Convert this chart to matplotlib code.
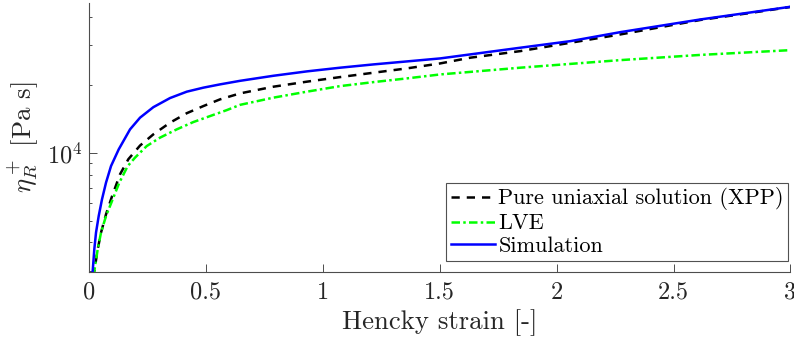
import matplotlib
matplotlib.use("Agg")
import matplotlib.pyplot as plt
from matplotlib.ticker import LogLocator, NullFormatter, FixedLocator

plt.rcParams['font.family'] = 'serif'
plt.rcParams['font.serif'] = ['cmr10']
plt.rcParams['mathtext.fontset'] = 'cm'
plt.rcParams['axes.formatter.use_mathtext'] = True

# Hencky strain and transient extensional viscosity for each curve
strain_sim = [0.0, 0.0158, 0.0227, 0.0300, 0.0415, 0.0556, 0.0728, 0.0942, 0.1271, 0.1755,
              0.2183, 0.2752, 0.3466, 0.4181, 0.4892, 0.5606, 0.6462, 0.7887, 0.9317, 1.0742,
              1.2167, 1.3596, 1.5021, 1.8445, 2.0585, 2.2725, 2.6148, 2.8288, 3.0]
eta_sim = [2400, 2993, 3734, 4426, 5242, 6215, 7368, 8724, 10342, 12679,
           14287, 15900, 17450, 18620, 19400, 20060, 20800, 21900, 22900, 23780,
           24590, 25350, 26140, 29150, 31170, 34170, 38890, 41770, 44260]

strain_xpp = [0.0, 0.0227, 0.0372, 0.0514, 0.0728, 0.0984, 0.1327, 0.1682, 0.2183, 0.2752,
              0.3466, 0.4181, 0.4892, 0.5606, 0.6462, 0.7887, 0.9317, 1.0742, 1.2167, 1.3596,
              1.5021, 1.6305, 1.8445, 2.2725, 2.6148, 2.8288, 3.0]
eta_xpp = [2400, 2993, 3734, 4426, 5333, 6405, 8017, 9350, 10750, 12050,
           13574, 14950, 16080, 17220, 18300, 19590, 20620, 21610, 22590, 23610,
           24840, 26330, 28160, 33380, 38690, 41560, 44170]

strain_lve = [0.0, 0.0227, 0.0372, 0.0514, 0.0728, 0.1014, 0.1297, 0.1656, 0.1969, 0.2469,
              0.3038, 0.3753, 0.4463, 0.5178, 0.5893, 0.6462, 0.7887, 0.9317, 1.0742, 1.2167,
              1.3596, 1.5021, 1.8445, 2.2725, 2.6148, 3.0]
eta_lve = [2400, 2993, 3734, 4426, 5242, 6215, 7368, 8724, 9504, 10695,
           11652, 12679, 13660, 14520, 15430, 16280, 17520, 18620, 19710, 20530,
           21320, 22200, 23780, 25690, 27090, 28440]

xticks = [0, 0.5, 1, 1.5, 2, 2.5, 3]
xtick_labels = ['0', '0.5', '1', '1.5', '2', '2.5', '3']

fig = plt.figure(figsize=(7.94, 3.48), dpi=100)
ax = fig.add_axes([0.1121, 0.2193, 0.8834, 0.7721])

ax.plot(strain_xpp, eta_xpp, color='black', linestyle=(0, (3.3, 2.8)), linewidth=1.8,
        label='Pure uniaxial solution (XPP)')
ax.plot(strain_lve, eta_lve, color='#00ff00', linestyle=(0, (3.4, 1.3, 1, 1.3)), linewidth=1.8,
        label='LVE')
ax.plot(strain_sim, eta_sim, color='#0000ff', linewidth=1.8, label='Simulation')

ax.set_yscale('log')
ax.set_xlim(0, 3)
ax.set_ylim(2970, 46000)
ax.yaxis.set_major_locator(LogLocator(base=10))
ax.yaxis.set_minor_locator(LogLocator(base=10, subs=range(2, 10)))
ax.yaxis.set_minor_formatter(NullFormatter())
ax.xaxis.set_major_locator(FixedLocator(xticks))
ax.set_xticklabels(xtick_labels)

for side in ['top', 'right']:
    ax.spines[side].set_visible(False)
for side in ['left', 'bottom']:
    ax.spines[side].set_color('#4d4d4d')
    ax.spines[side].set_linewidth(0.8)

ax.tick_params(axis='both', which='both', direction='in', colors='#4d4d4d',
               labelcolor='#262626', labelsize=17.5, width=0.7)
ax.tick_params(axis='both', which='major', length=5.5)
ax.tick_params(axis='y', which='minor', length=2.5)
ax.tick_params(axis='x', which='major', pad=7)
ax.tick_params(axis='y', which='major', pad=5)

ax.set_xlabel('Hencky strain [-]', fontsize=19.25, color='#262626', labelpad=4)
ax.set_ylabel(r'$\eta_R^+$ [Pa s]', fontsize=19.25, color='#262626', labelpad=4)

leg = ax.legend(loc='lower right', bbox_to_anchor=(0.997, 0.041), fontsize=16,
                frameon=True, fancybox=False, handlelength=2.0, handletextpad=0.15,
                borderpad=0.2, labelspacing=0.15, borderaxespad=0)
leg.get_frame().set_edgecolor('#262626')
leg.get_frame().set_linewidth(0.8)

fig.savefig('out.png', dpi=100)
